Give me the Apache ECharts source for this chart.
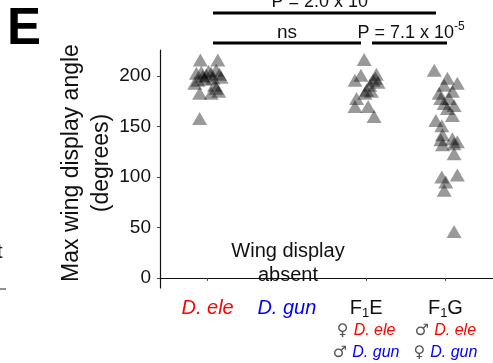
<!DOCTYPE html>
<html>
<head>
<meta charset="utf-8">
<script src="https://cdn.jsdelivr.net/npm/echarts@6/dist/echarts.min.js"></script>
<style>html,body{margin:0;padding:0;background:#fff}#c{width:493px;height:363px}</style>
</head>
<body>
<div id="c"></div>
<script>
// Categories (x positions 1..4)
const categories = ['D. ele', 'D. gun', 'F1E', 'F1G'];
const yTicks = [0, 50, 100, 150, 200];

// D. ele: jittered x (category units) and max wing display angle
const deleX = [0.909, 1.129, 0.859, 0.921, 0.984, 1.046, 1.109, 1.15, 0.879, 0.963, 1.066, 1.171, 0.838, 1.088, 1.109, 0.9, 1.046, 1.141, 0.9, 0.938, 1.013];
const deleY = [216, 216, 203, 204, 201, 203, 206, 202, 196, 197, 198, 199, 193, 191, 188, 183, 183, 185, 158, 200, 205];

// F1E
const f1eX = [2.975, 2.934, 2.859, 3.129, 3.088, 3.15, 3.004, 3.066, 2.984, 2.879, 2.859, 3.025, 3.1, 3.046, 3.116];
const f1eY = [216.5, 201, 196, 202, 196, 194, 186, 185, 183, 178, 170, 170, 160, 191, 198];

// F1G
const f1gX = [3.859, 4.025, 4.15, 3.984, 3.921, 4.088, 4.046, 3.984, 4.109, 4.025, 3.941, 4.088, 3.879, 3.954, 3.963, 4.088, 4.15, 3.941, 3.963, 4.109, 4.109, 3.954, 4.15, 4.004, 3.984, 4.109];
const f1gY = [206, 198, 193, 191, 183, 185, 178, 173, 171, 168, 178, 161, 156, 151, 142, 138, 135, 137, 132, 133, 123, 100, 102, 95, 87, 46];

const pts = [];
[[deleX, deleY], [f1eX, f1eY], [f1gX, f1gY]].forEach(([xs, ys]) => {
  xs.forEach((x, i) => pts.push([x, ys[i]]));
});

const FF = '"Liberation Sans", Arial, sans-serif';
const chart = echarts.init(document.getElementById('c'), null, {renderer: 'canvas'});

const labelMap = {
  1: '{r|D. ele}',
  2: '{b|D. gun}',
  3: '{k|F}{s|1}{k|E}\n{g|♀ }{rs|D. ele}\n{g|♂ }{bs|D. gun}',
  4: '{k|F}{s|1}{k|G}\n{g|♂ }{rs|D. ele}\n{g|♀ }{bs|D. gun}'
};

chart.setOption({
  animation: false,
  grid: {left: 160, top: 50, width: 336, height: 238, containLabel: false},
  xAxis: {
    type: 'value', min: 0.4, max: 4.6,
    splitLine: {show: false},
    axisLine: {show: true, lineStyle: {color: '#111', width: 1.2}},
    axisTick: {show: true, customValues: [1, 2, 3, 4], length: 3, lineStyle: {color: '#444'}},
    axisLabel: {
      show: true, customValues: [1, 2, 3, 4], margin: 8,
      formatter: v => labelMap[Math.round(v)] || '',
      rich: {
        r: {color: '#ff0000', fontStyle: 'italic', fontSize: 20, lineHeight: 24, fontFamily: FF},
        b: {color: '#0000ff', fontStyle: 'italic', fontSize: 20, lineHeight: 24, fontFamily: FF},
        k: {color: '#111', fontSize: 20, lineHeight: 24, fontFamily: FF},
        s: {color: '#111', fontSize: 13, lineHeight: 15, verticalAlign: 'bottom', fontFamily: FF},
        g: {color: '#555', fontSize: 16, lineHeight: 22, fontFamily: '"DejaVu Sans", sans-serif'},
        rs: {color: '#ff0000', fontStyle: 'italic', fontSize: 16, lineHeight: 22, fontFamily: FF},
        bs: {color: '#0000ff', fontStyle: 'italic', fontSize: 16, lineHeight: 22, fontFamily: FF}
      }
    }
  },
  yAxis: {
    type: 'value', min: -10, max: 226,
    splitLine: {show: false},
    axisLine: {show: true, lineStyle: {color: '#111', width: 1.2}},
    axisTick: {show: true, customValues: yTicks, length: 3, lineStyle: {color: '#444'}},
    axisLabel: {show: true, customValues: yTicks, margin: 9, color: '#111', fontSize: 19, fontFamily: FF}
  },
  series: [{
    type: 'scatter',
    data: pts,
    symbol: 'triangle',
    symbolSize: [15, 13],
    itemStyle: {color: 'rgba(0,0,0,0.5)'},
    clip: false
  }],
  graphic: [
    {type: 'text', left: 7, top: 4, style: {text: 'E', font: 'bold 51px ' + FF, fill: '#000'}},
    {type: 'text', x: 87, y: 163, rotation: Math.PI / 2,
      style: {text: 'Max wing display angle\n(degrees)', font: '23px ' + FF, fill: '#111', align: 'center', verticalAlign: 'middle', lineHeight: 30}},
    {type: 'line', shape: {x1: 213, y1: 13, x2: 436, y2: 13}, style: {stroke: '#000', lineWidth: 3}},
    {type: 'line', shape: {x1: 213, y1: 43, x2: 361, y2: 43}, style: {stroke: '#000', lineWidth: 3}},
    {type: 'line', shape: {x1: 372, y1: 43, x2: 447, y2: 43}, style: {stroke: '#000', lineWidth: 3}},
    {type: 'text', x: 325, y: 2,
      style: {text: '{a|P = 2.0 x 10}{p|-7}', align: 'center', verticalAlign: 'middle',
        rich: {a: {fontSize: 18, lineHeight: 24, fontFamily: FF, fill: '#111'}, p: {fontSize: 12, lineHeight: 12, verticalAlign: 'top', fontFamily: FF, fill: '#111'}}}},
    {type: 'text', x: 287, y: 33, style: {text: 'ns', font: '19px ' + FF, fill: '#111', align: 'center', verticalAlign: 'middle'}},
    {type: 'text', x: 411, y: 33,
      style: {text: '{a|P = 7.1 x 10}{p|-5}', align: 'center', verticalAlign: 'middle',
        rich: {a: {fontSize: 18, lineHeight: 24, fontFamily: FF, fill: '#111'}, p: {fontSize: 12, lineHeight: 12, verticalAlign: 'top', fontFamily: FF, fill: '#111'}}}},
    {type: 'text', x: 288, y: 251, style: {text: 'Wing display', font: '20px ' + FF, fill: '#111', align: 'center', verticalAlign: 'middle'}},
    {type: 'text', x: 288, y: 275, style: {text: 'absent', font: '20px ' + FF, fill: '#111', align: 'center', verticalAlign: 'middle'}},
    {type: 'text', x: -3, y: 252, style: {text: 't', font: '20px ' + FF, fill: '#111', align: 'left', verticalAlign: 'middle'}},
    {type: 'line', shape: {x1: 0, y1: 289, x2: 6, y2: 289}, style: {stroke: '#222', lineWidth: 1}}
  ]
});
</script>
</body>
</html>
